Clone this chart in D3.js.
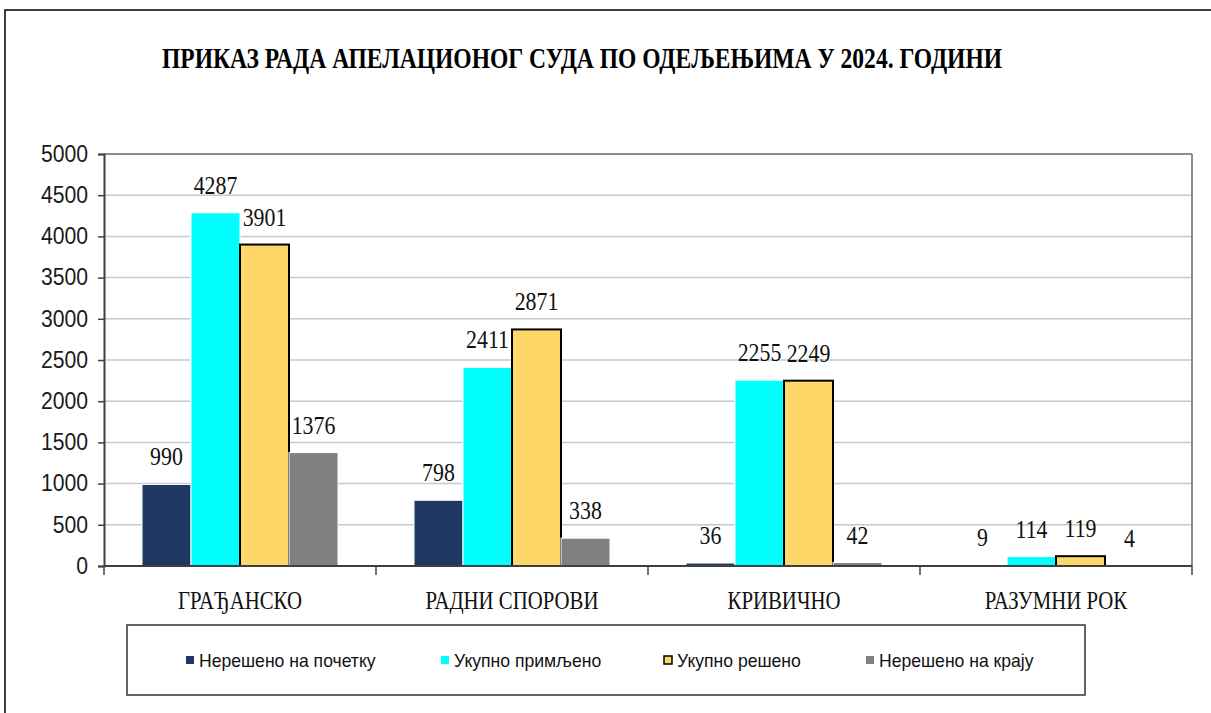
<!DOCTYPE html>
<html>
<head>
<meta charset="utf-8">
<script src="https://cdn.jsdelivr.net/npm/d3@7"></script>
<style>
  body { margin: 0; background: #fff; }
  .yaxis text { font-family: "Liberation Sans", Arial, sans-serif; font-size: 23px; fill: #1a1a1a; }
  .cat { font-family: "Liberation Serif", "Times New Roman", serif; font-size: 26px; fill: #111; }
  .lbl { font-family: "Liberation Serif", "Times New Roman", serif; font-size: 26px; fill: #111; }
  .leg { font-family: "Liberation Sans", Arial, sans-serif; font-size: 18.5px; fill: #111; }
</style>
</head>
<body>
<script>
// chart data
var categories = ["ГРАЂАНСКО", "РАДНИ СПОРОВИ", "КРИВИЧНО", "РАЗУМНИ РОК"];
var seriesNames = ["Нерешено на почетку", "Укупно примљено", "Укупно решено", "Нерешено на крају"];
var unresolvedStart = [990, 798, 36, 9];
var received = [4287, 2411, 2255, 114];
var resolved = [3901, 2871, 2249, 119];
var unresolvedEnd = [1376, 338, 42, 4];
var yTicks = [0, 500, 1000, 1500, 2000, 2500, 3000, 3500, 4000, 4500, 5000];
var title = "ПРИКАЗ РАДА АПЕЛАЦИОНОГ СУДА ПО ОДЕЉЕЊИМА У 2024. ГОДИНИ";

var colors = ["#203864", "#00ffff", "#fdd868", "#808080"];
var strokes = ["none", "none", "#000", "none"];

var width = 1211, height = 713;
var plotLeft = 104, plotRight = 1192, plotTop = 154, plotBottom = 566;

// narrow the text horizontally, like the condensed fonts of the original
function squeeze(sel, f){
    sel.each(function(){
        var w = this.getComputedTextLength();
        d3.select(this)
            .attr("textLength", w * f)
            .attr("lengthAdjust", "spacingAndGlyphs");
    });
}

var svg = d3.select("body").append("svg")
    .attr("width", width)
    .attr("height", height);

// outer frame (only top and left edges are visible)
svg.append("path")
    .attr("d", "M5,713 L5,10 L1211,10")
    .attr("fill", "none")
    .attr("stroke", "#000")
    .attr("stroke-width", 1.5);

// title
svg.append("text")
    .attr("x", 162)
    .attr("y", 68)
    .attr("textLength", 840)
    .attr("lengthAdjust", "spacingAndGlyphs")
    .style("font-family", "'Liberation Serif', 'Times New Roman', serif")
    .style("font-weight", "bold")
    .style("font-size", "29px")
    .text(title);

var x0 = d3.scaleBand()
    .domain(categories)
    .range([plotLeft, plotRight])
    .padding(0);

var x1 = d3.scaleBand()
    .domain(d3.range(seriesNames.length))
    .range([38, x0.bandwidth() - 38])
    .padding(0);

var y = d3.scaleLinear()
    .domain([0, 5000])
    .range([plotBottom, plotTop]);

// gridlines
svg.append("g")
    .selectAll("line")
    .data(yTicks.slice(1))
    .enter()
    .append("line")
    .attr("x1", plotLeft)
    .attr("x2", plotRight)
    .attr("y1", function(d){ return y(d); })
    .attr("y2", function(d){ return y(d); })
    .attr("stroke", function(d){ return d === 5000 ? "#8c8c8c" : "#c8c8c8"; })
    .attr("stroke-width", function(d){ return d === 5000 ? 2 : 1.5; });

// right border of plot area
svg.append("line")
    .attr("x1", plotRight).attr("x2", plotRight)
    .attr("y1", plotTop).attr("y2", plotBottom)
    .attr("stroke", "#8c8c8c")
    .attr("stroke-width", 2);

// y axis
var yAxis = svg.append("g")
    .attr("class", "yaxis")
    .attr("transform", "translate(" + plotLeft + ",0)")
    .call(d3.axisLeft(y).tickValues(yTicks).tickSize(6).tickPadding(10).tickFormat(d3.format("d")));
yAxis.select(".domain").attr("stroke", "#404040").attr("stroke-width", 2);
yAxis.selectAll(".tick line").attr("stroke", "#404040").attr("stroke-width", 1.5);
squeeze(yAxis.selectAll(".tick text"), 0.92);

// bars
var rows = categories.map(function(c, i){
    return [unresolvedStart[i], received[i], resolved[i], unresolvedEnd[i]];
});

var groups = svg.selectAll(".grp")
    .data(rows)
    .enter()
    .append("g")
    .attr("class", "grp")
    .attr("transform", function(d, i){ return "translate(" + x0(categories[i]) + ",0)"; });

groups.selectAll("rect")
    .data(function(d){ return d; })
    .enter()
    .append("rect")
    .attr("x", function(d, j){ return x1(j); })
    .attr("y", function(d){ return y(d); })
    .attr("width", x1.bandwidth())
    .attr("height", function(d){ return plotBottom - y(d); })
    .attr("fill", function(d, j){ return colors[j]; })
    .attr("stroke", function(d, j){ return j === 2 ? "#000" : "#fff"; })
    .attr("stroke-width", function(d, j){ return j === 2 ? 2 : 1; });

var labels = groups.selectAll(".lbl")
    .data(function(d){ return d; })
    .enter()
    .append("text")
    .attr("class", "lbl")
    .attr("x", function(d, j){ return x1(j) + x1.bandwidth() / 2; })
    .attr("y", function(d){ return y(d) - 19; })
    .attr("text-anchor", "middle")
    .text(function(d){ return d; });
squeeze(labels, 0.84);

// x axis
svg.append("line")
    .attr("x1", plotLeft).attr("x2", plotRight)
    .attr("y1", plotBottom).attr("y2", plotBottom)
    .attr("stroke", "#404040")
    .attr("stroke-width", 2);

svg.append("g")
    .selectAll("line")
    .data(categories.concat(["end"]))
    .enter()
    .append("line")
    .attr("x1", function(d, i){ return plotLeft + i * x0.bandwidth(); })
    .attr("x2", function(d, i){ return plotLeft + i * x0.bandwidth(); })
    .attr("y1", plotBottom)
    .attr("y2", plotBottom + 9)
    .attr("stroke", "#404040")
    .attr("stroke-width", 1.5);

var cats = svg.selectAll(".cat")
    .data(categories)
    .enter()
    .append("text")
    .attr("class", "cat")
    .attr("x", function(d){ return x0(d) + x0.bandwidth() / 2; })
    .attr("y", 609)
    .attr("text-anchor", "middle")
    .text(function(d){ return d; });
squeeze(cats, 0.8);

// legend
svg.append("rect")
    .attr("x", 127)
    .attr("y", 625)
    .attr("width", 958)
    .attr("height", 70)
    .attr("fill", "#fff")
    .attr("stroke", "#333")
    .attr("stroke-width", 1.5);

var legX = [186, 441, 664, 866];
var leg = svg.selectAll(".legItem")
    .data(seriesNames)
    .enter()
    .append("g")
    .attr("class", "legItem")
    .attr("transform", function(d, i){ return "translate(" + legX[i] + ",660)"; });

leg.append("rect")
    .attr("x", 0)
    .attr("y", -4)
    .attr("width", 8)
    .attr("height", 8)
    .attr("fill", function(d, i){ return colors[i]; })
    .attr("stroke", function(d, i){ return strokes[i]; })
    .attr("stroke-width", 1.5);

var legText = leg.append("text")
    .attr("class", "leg")
    .attr("x", 13)
    .attr("y", 7)
    .text(function(d){ return d; });
squeeze(legText, 0.95);
</script>
</body>
</html>
